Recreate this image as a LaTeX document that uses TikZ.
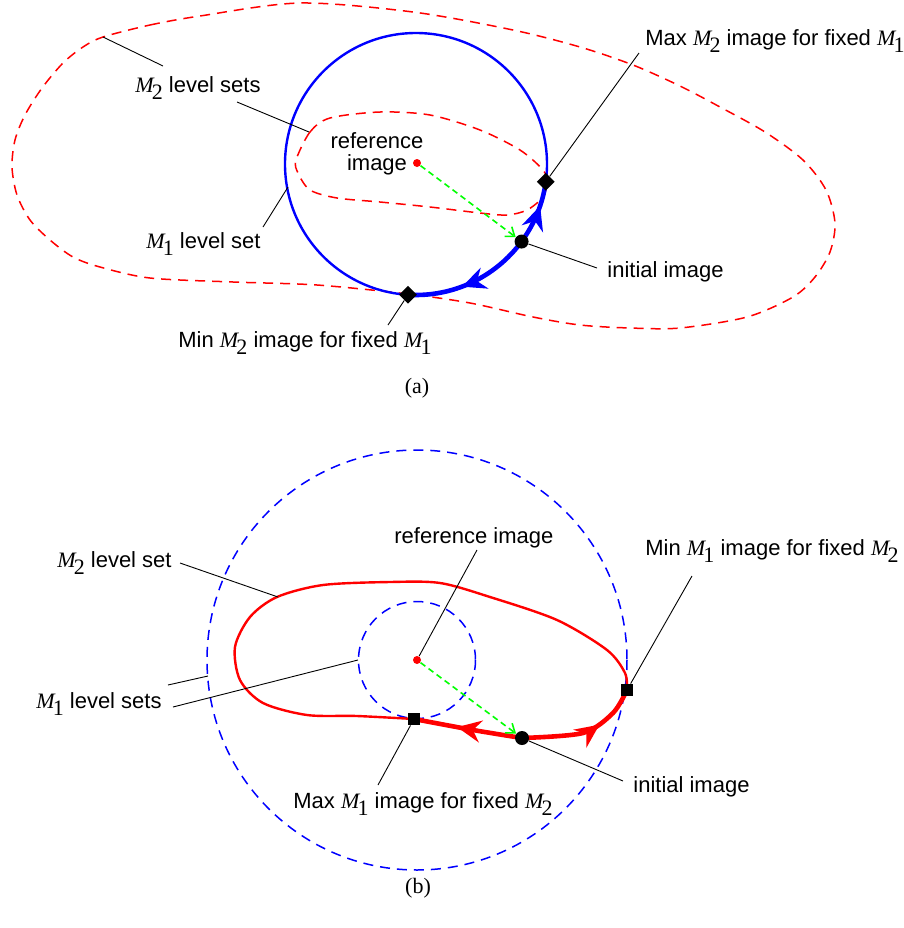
\documentclass[tikz,border=0pt]{standalone}
\usepackage{fontspec}
\setmainfont{Liberation Sans}
\newfontfamily\tms{Liberation Serif}
\usetikzlibrary{arrows.meta,decorations.markings,shapes.geometric}
\newcommand\MM[1]{{\tms\itshape M}\kern-0.9pt\raisebox{-3.6pt}{\tms #1}}
\begin{document}
\begin{tikzpicture}[x=0.5pt,y=-0.5pt,
  font=\fontsize{11}{11}\selectfont,
  lbl/.style={inner sep=0pt, anchor=base west},
  lble/.style={inner sep=0pt, anchor=base east},
  captext/.style={inner sep=0pt, anchor=base},
  leader/.style={draw=black, line width=0.45pt},
  lvlAtwo/.style={draw=red, line width=0.75pt, dash pattern=on 5pt off 3.5pt},
  lvlBone/.style={draw=blue, line width=0.75pt, dash pattern=on 5pt off 3.5pt},
  circA/.style={draw=blue, line width=1.2pt},
  curveB/.style={draw=red, line width=1.2pt},
  paththick/.style={line width=2.3pt},
  dmark/.style={diamond, aspect=1, fill=black, inner sep=0pt, minimum width=9pt, minimum height=9pt},
  smark/.style={rectangle, fill=black, inner sep=0pt, minimum size=6pt},
  bdot/.style={circle, fill=black, inner sep=0pt, minimum size=7pt},
  rdot/.style={circle, fill=red, inner sep=0pt, minimum size=4pt},
  gvec/.style={draw=green, line width=0.8pt, dash pattern=on 3pt off 2pt, -{Straight Barb[length=4pt,width=6pt]}},
  midarrow/.style={postaction={decorate, decoration={markings, mark=at position #1 with {\arrow{Stealth[length=12pt,width=11pt,inset=4pt]}}}}},
]
\useasboundingbox (0,0) rectangle (904,928);

% ---------------- (a) ----------------
\coordinate (cA) at (416,164);
\draw[lvlAtwo] plot[smooth cycle] coordinates {(103,37) (150,25) (200,16) (300,3) (413,12) (513,30) (580,47) (633,65) (680,86) (720,107) (765,132) (803,160) (826,190) (835,223) (830,252) (815,277) (793,297) (747,317) (680,328) (630,328) (580,325) (533,317) (470,303) (408,294) (317,285) (233,282) (150,278) (100,267) (73,257) (50,240) (30,220) (17,195) (12,167) (15,140) (25,115) (42,88) (63,63) (83,47)};
\draw[lvlAtwo] plot[smooth cycle] coordinates {(296,160) (310,132) (330,118) (380,112) (430,115) (480,130) (520,150) (543,170) (547,182) (543,197) (527,210) (507,215) (480,213) (430,207) (380,202) (337,198) (310,190) (298,173)};
\draw[circA] (cA) circle[radius=131];
\path (cA) ++(7.8:131) coordinate (pUp);
\path (cA) ++(36.3:131) coordinate (pDot);
\path (cA) ++(93.5:131) coordinate (pLow);
\draw[blue, paththick, midarrow=0.62] (pDot) arc[start angle=36.3, end angle=7.8, radius=131];
\draw[blue, paththick, midarrow=0.58] (pDot) arc[start angle=36.3, end angle=93.5, radius=131];
\node[dmark] (dUp) at (pUp) {};
\node[dmark] (dLow) at (pLow) {};
\node[bdot] (dotA) at (pDot) {};
\node[rdot] (refA) at (417,163) {};
\draw[gvec] (refA) -- (dotA);

\coordinate (lMaxA) at (639,53);
\coordinate (lM2aA) at (103,37);
\coordinate (lM2bA) at (163,66);
\coordinate (lM2cA) at (237,102);
\coordinate (lM2dA) at (309,132);
\coordinate (lM1aA) at (263,227);
\coordinate (lM1bA) at (288,187);
\coordinate (lIniA) at (597,268);
\coordinate (lMinA) at (388,325);
\draw[leader] (lMaxA) -- (dUp);
\draw[leader] (lM2aA) -- (lM2bA);
\draw[leader] (lM2cA) -- (lM2dA);
\draw[leader] (lM1aA) -- (lM1bA);
\draw[leader] (dotA) -- (lIniA);
\draw[leader] (lMinA) -- (dLow);

\node[lbl] (tMaxA) at (645,45) {Max \MM{2} image for fixed \MM{1}};
\node[lble] (tM2A) at (261,92) {\MM{2} level sets};
\node[lble] (tM1A) at (261,248) {\MM{1} level set};
\node[captext] (tRefA) at (377,148) {\begin{tabular}[t]{@{}c@{}}reference\\image\end{tabular}};
\node[lbl] (tIniA) at (607,277) {initial image};
\node[lbl] (tMinA) at (178,347) {Min \MM{2} image for fixed \MM{1}};
\node[captext] (capA) at (417,393) {\tms (a)};

% ---------------- (b) ----------------
\coordinate (cB) at (417,660);
\draw[lvlBone] (cB) circle[radius=210];
\draw[lvlBone] (cB) circle[radius=58.5];
\draw[curveB] plot[smooth] coordinates {(627,690) (625,673) (607,650) (557,620) (490,597) (440,583) (390,582) (323,585) (277,597) (250,617) (235,647) (240,680) (263,703) (307,715) (357,716) (414,719)};
\draw[red, paththick, midarrow=0.6] plot[smooth] coordinates {(522,738) (473,730) (414,719)};
\draw[red, paththick, midarrow=0.64] plot[smooth] coordinates {(522,738) (583,733) (613,713) (627,690)};
\node[smark] (sqL) at (414,719) {};
\node[smark] (sqR) at (627,690) {};
\node[bdot] (dotB) at (522,738) {};
\node[rdot] (refB) at (cB) {};
\draw[gvec] (refB) -- (dotB);

\coordinate (lRefB) at (477,550);
\coordinate (lM2aB) at (180,563);
\coordinate (lM2bB) at (278,597);
\coordinate (lM1aB) at (168,685);
\coordinate (lM1bB) at (208,676);
\coordinate (lM1cB) at (173,707);
\coordinate (lM1dB) at (358,660);
\coordinate (lMinB) at (692,576);
\coordinate (lIniB) at (623,781);
\coordinate (lMaxB) at (378,785);
\draw[leader] (lRefB) -- (refB);
\draw[leader] (lM2aB) -- (lM2bB);
\draw[leader] (lM1aB) -- (lM1bB);
\draw[leader] (lM1cB) -- (lM1dB);
\draw[leader] (lMinB) -- (sqR);
\draw[leader] (dotB) -- (lIniB);
\draw[leader] (lMaxB) -- (sqL);

\node[lbl] (tRefB) at (394,543) {reference image};
\node[lble] (tM2B) at (172,567) {\MM{2} level set};
\node[lble] (tM1B) at (162,708) {\MM{1} level sets};
\node[lbl] (tMinB) at (645,555) {Min \MM{1} image for fixed \MM{2}};
\node[lbl] (tIniB) at (633,792) {initial image};
\node[lbl] (tMaxB) at (293,808) {Max \MM{1} image for fixed \MM{2}};
\node[captext] (capB) at (418,893) {\tms (b)};
\end{tikzpicture}
\end{document}
